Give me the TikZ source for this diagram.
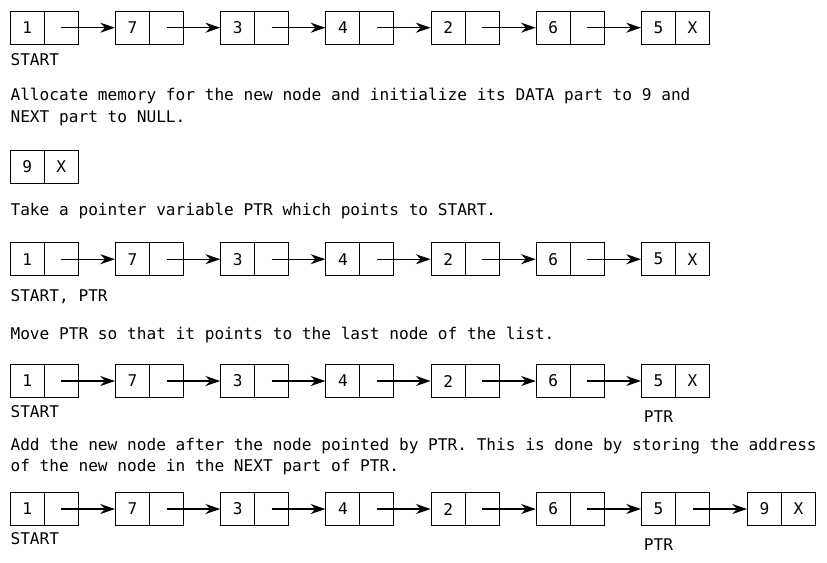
\documentclass[tikz,border=0pt]{standalone}
\usepackage{fontspec}
\newfontfamily\monofam{DejaVu Sans Mono}
\usetikzlibrary{arrows.meta}
\tikzset{
  cell/.style={draw, line width=0.8pt, minimum width=25.5pt, minimum height=25pt, inner sep=0pt, font=\monofam\fontsize{12.1}{14}\selectfont},
  link/.style={line width=0.8pt, -{Stealth[length=11pt, width=7.5pt, inset=3.5pt]}},
  txt/.style={anchor=base west, inner sep=0pt, font=\monofam\fontsize{12.1}{14}\selectfont},
  lbl/.style={anchor=base, inner sep=0pt, font=\monofam\fontsize{12.1}{14}\selectfont}
}
\newcommand\mylistrow[2]{%
  \foreach \v [count=\i from 0] in {1,7,3,4,2,6} {
    \node[cell] (d#1-\i) at ({27.3+105.2*\i},#2) {\v};
    \node[cell] (p#1-\i) at ({61.3+105.2*\i},#2) {};
  }
}
\begin{document}
\begin{tikzpicture}[x=0.75pt, y=-0.75pt]
\useasboundingbox (0,0) rectangle (827,562);
% Row 1
\mylistrow{a}{27.7}
\node[cell] (da-6) at ({27.3+105.2*6},27.7) {5};
\node[cell] (pa-6) at ({61.3+105.2*6},27.7) {X};
\foreach \i [evaluate=\i as \j using int(\i+1)] in {0,...,5}
  \draw[link] (pa-\i.center) -- (da-\j.west);
\node[txt] (starta) at (10.3,65) {START};
\node[txt] (t1) at (10.3,100.7) {Allocate memory for the new node and initialize its DATA part to 9 and};
\node[txt] (t2) at (10.3,122.7) {NEXT part to NULL.};
% Row 2
\node[cell] (dnew) at (27.3,166.7) {9};
\node[cell] (pnew) at (61.3,166.7) {X};
\node[txt] (t3) at (10.3,215) {Take a pointer variable PTR which points to START.};
% Row 3
\mylistrow{c}{259.2}
\node[cell] (dc-6) at ({27.3+105.2*6},259.2) {5};
\node[cell] (pc-6) at ({61.3+105.2*6},259.2) {X};
\foreach \i [evaluate=\i as \j using int(\i+1)] in {0,...,5}
  \draw[link] (pc-\i.center) -- (dc-\j.west);
\node[txt] (startc) at (10.3,301) {START, PTR};
\node[txt] (t4) at (10.3,339.3) {Move PTR so that it points to the last node of the list.};
% Row 4
\mylistrow{d}{381}
\node[cell] (dd-6) at ({27.3+105.2*6},381) {5};
\node[cell] (pd-6) at ({61.3+105.2*6},381) {X};
\foreach \i [evaluate=\i as \j using int(\i+1)] in {0,...,5}
  \draw[link] (pd-\i.center) -- (dd-\j.west);
\node[txt] (startd) at (10.3,417.3) {START};
\node[lbl] (ptrd) at ({27.3+105.2*6},422.3) {PTR};
\node[txt] (t5) at (10.3,450.7) {Add the new node after the node pointed by PTR. This is done by storing the address};
\node[txt] (t6) at (10.3,471.7) {of the new node in the NEXT part of PTR.};
% Row 5
\mylistrow{e}{509}
\node[cell] (de-6) at ({27.3+105.2*6},509) {5};
\node[cell] (pe-6) at ({61.3+105.2*6},509) {};
\node[cell] (de-7) at (764.5,509) {9};
\node[cell] (pe-7) at (798.5,509) {X};
\foreach \i [evaluate=\i as \j using int(\i+1)] in {0,...,6}
  \draw[link] (pe-\i.center) -- (de-\j.west);
\node[txt] (starte) at (10.3,544) {START};
\node[lbl] (ptre) at ({27.3+105.2*6},550.7) {PTR};
\end{tikzpicture}
\end{document}
